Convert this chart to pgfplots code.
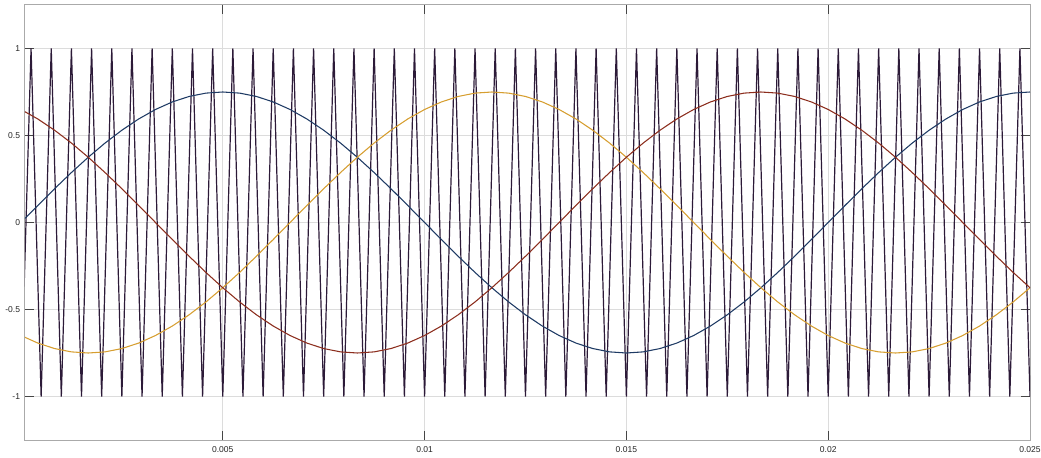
\documentclass[border=0pt]{standalone}
\usepackage{fontspec}
\setmainfont{Liberation Sans}
\usepackage{pgfplots}
\usepackage{pgfplotstable}
\pgfplotsset{compat=1.18}
\usetikzlibrary{calc}

\definecolor{carrier}{RGB}{44,26,56}
\definecolor{phaseA}{RGB}{30,58,100}
\definecolor{phaseB}{RGB}{214,158,48}
\definecolor{phaseC}{RGB}{140,46,30}
\definecolor{gridgray}{RGB}{220,220,220}
\definecolor{spinegray}{RGB}{170,170,170}
\definecolor{tickgray}{RGB}{70,70,70}

% triangular carrier, 2 kHz, between -1 and 1
\pgfplotstableread[row sep=\\]{
t v\\
0 -1\\ 0.00025 1\\ 0.0005 -1\\ 0.00075 1\\ 0.001 -1\\ 0.00125 1\\ 0.0015 -1\\ 0.00175 1\\ 0.002 -1\\ 0.00225 1\\
0.0025 -1\\ 0.00275 1\\ 0.003 -1\\ 0.00325 1\\ 0.0035 -1\\ 0.00375 1\\ 0.004 -1\\ 0.00425 1\\ 0.0045 -1\\ 0.00475 1\\
0.005 -1\\ 0.00525 1\\ 0.0055 -1\\ 0.00575 1\\ 0.006 -1\\ 0.00625 1\\ 0.0065 -1\\ 0.00675 1\\ 0.007 -1\\ 0.00725 1\\
0.0075 -1\\ 0.00775 1\\ 0.008 -1\\ 0.00825 1\\ 0.0085 -1\\ 0.00875 1\\ 0.009 -1\\ 0.00925 1\\ 0.0095 -1\\ 0.00975 1\\
0.01 -1\\ 0.01025 1\\ 0.0105 -1\\ 0.01075 1\\ 0.011 -1\\ 0.01125 1\\ 0.0115 -1\\ 0.01175 1\\ 0.012 -1\\ 0.01225 1\\
0.0125 -1\\ 0.01275 1\\ 0.013 -1\\ 0.01325 1\\ 0.0135 -1\\ 0.01375 1\\ 0.014 -1\\ 0.01425 1\\ 0.0145 -1\\ 0.01475 1\\
0.015 -1\\ 0.01525 1\\ 0.0155 -1\\ 0.01575 1\\ 0.016 -1\\ 0.01625 1\\ 0.0165 -1\\ 0.01675 1\\ 0.017 -1\\ 0.01725 1\\
0.0175 -1\\ 0.01775 1\\ 0.018 -1\\ 0.01825 1\\ 0.0185 -1\\ 0.01875 1\\ 0.019 -1\\ 0.01925 1\\ 0.0195 -1\\ 0.01975 1\\
0.02 -1\\ 0.02025 1\\ 0.0205 -1\\ 0.02075 1\\ 0.021 -1\\ 0.02125 1\\ 0.0215 -1\\ 0.02175 1\\ 0.022 -1\\ 0.02225 1\\
0.0225 -1\\ 0.02275 1\\ 0.023 -1\\ 0.02325 1\\ 0.0235 -1\\ 0.02375 1\\ 0.024 -1\\ 0.02425 1\\ 0.0245 -1\\ 0.02475 1\\
0.025 -1\\
}\carrierdata

% three-phase references, 50 Hz, amplitude 0.75 (a, b = a - 120 deg, c = a + 120 deg)
\pgfplotstableread{
t        a       b       c
0        0.0000 -0.6495  0.6495
0.000417 0.0979 -0.6929  0.5950
0.000833 0.1941 -0.7244  0.5303
0.00125  0.2870 -0.7436  0.4566
0.001667 0.3750 -0.7500  0.3750
0.002083 0.4566 -0.7436  0.2870
0.0025   0.5303 -0.7244  0.1941
0.002917 0.5950 -0.6929  0.0979
0.003333 0.6495 -0.6495  0.0000
0.00375  0.6929 -0.5950 -0.0979
0.004167 0.7244 -0.5303 -0.1941
0.004583 0.7436 -0.4566 -0.2870
0.005    0.7500 -0.3750 -0.3750
0.005417 0.7436 -0.2870 -0.4566
0.005833 0.7244 -0.1941 -0.5303
0.00625  0.6929 -0.0979 -0.5950
0.006667 0.6495  0.0000 -0.6495
0.007083 0.5950  0.0979 -0.6929
0.0075   0.5303  0.1941 -0.7244
0.007917 0.4566  0.2870 -0.7436
0.008333 0.3750  0.3750 -0.7500
0.00875  0.2870  0.4566 -0.7436
0.009167 0.1941  0.5303 -0.7244
0.009583 0.0979  0.5950 -0.6929
0.01     0.0000  0.6495 -0.6495
0.010417 -0.0979 0.6929 -0.5950
0.010833 -0.1941 0.7244 -0.5303
0.01125  -0.2870 0.7436 -0.4566
0.011667 -0.3750 0.7500 -0.3750
0.012083 -0.4566 0.7436 -0.2870
0.0125   -0.5303 0.7244 -0.1941
0.012917 -0.5950 0.6929 -0.0979
0.013333 -0.6495 0.6495  0.0000
0.01375  -0.6929 0.5950  0.0979
0.014167 -0.7244 0.5303  0.1941
0.014583 -0.7436 0.4566  0.2870
0.015    -0.7500 0.3750  0.3750
0.015417 -0.7436 0.2870  0.4566
0.015833 -0.7244 0.1941  0.5303
0.01625  -0.6929 0.0979  0.5950
0.016667 -0.6495 0.0000  0.6495
0.017083 -0.5950 -0.0979 0.6929
0.0175   -0.5303 -0.1941 0.7244
0.017917 -0.4566 -0.2870 0.7436
0.018333 -0.3750 -0.3750 0.7500
0.01875  -0.2870 -0.4566 0.7436
0.019167 -0.1941 -0.5303 0.7244
0.019583 -0.0979 -0.5950 0.6929
0.02     0.0000 -0.6495  0.6495
0.020417 0.0979 -0.6929  0.5950
0.020833 0.1941 -0.7244  0.5303
0.02125  0.2870 -0.7436  0.4566
0.021667 0.3750 -0.7500  0.3750
0.022083 0.4566 -0.7436  0.2870
0.0225   0.5303 -0.7244  0.1941
0.022917 0.5950 -0.6929  0.0979
0.023333 0.6495 -0.6495  0.0000
0.02375  0.6929 -0.5950 -0.0979
0.024167 0.7244 -0.5303 -0.1941
0.024583 0.7436 -0.4566 -0.2870
0.025    0.7500 -0.3750 -0.3750
}\refdata

\begin{document}
\begin{tikzpicture}
\begin{axis}[
  scale only axis,
  width=753.75pt, height=326.25pt,
  xmin=0.0001, xmax=0.025,
  ymin=-1.25, ymax=1.25,
  scaled x ticks=false,
  scaled y ticks=false,
  xtick={0.005,0.01,0.015,0.02,0.025},
  xticklabels={0.005,0.01,0.015,0.02,0.025},
  ytick={-1,-0.5,0,0.5,1},
  yticklabels={-1,-0.5,0,0.5,1},
  grid=major,
  major grid style={draw=gridgray, line width=0.6pt},
  axis line style={draw=spinegray, line width=0.75pt},
  tick style={draw=tickgray, line width=0.6pt},
  major tick length=6.5pt,
  tick label style={font=\fontsize{6.4}{7.5}\selectfont, text=black!85, inner sep=1pt},
  xticklabel style={yshift=-3.5pt},
  yticklabel style={xshift=-2.5pt},
  clip=true,
]
\addplot[carrier, line width=0.9pt] table[x=t, y=v] {\carrierdata};
\addplot[phaseA, line width=0.8pt] table[x=t, y=a] {\refdata};
\addplot[phaseB, line width=0.8pt] table[x=t, y=b] {\refdata};
\addplot[phaseC, line width=0.8pt] table[x=t, y=c] {\refdata};
\end{axis}
% fixed page frame around the axis box
\pgfresetboundingbox
\useasboundingbox ($(current axis.south west)+(-18.75pt,-12.75pt)$) rectangle ($(current axis.north east)+(8.25pt,3.75pt)$);
\end{tikzpicture}
\end{document}
